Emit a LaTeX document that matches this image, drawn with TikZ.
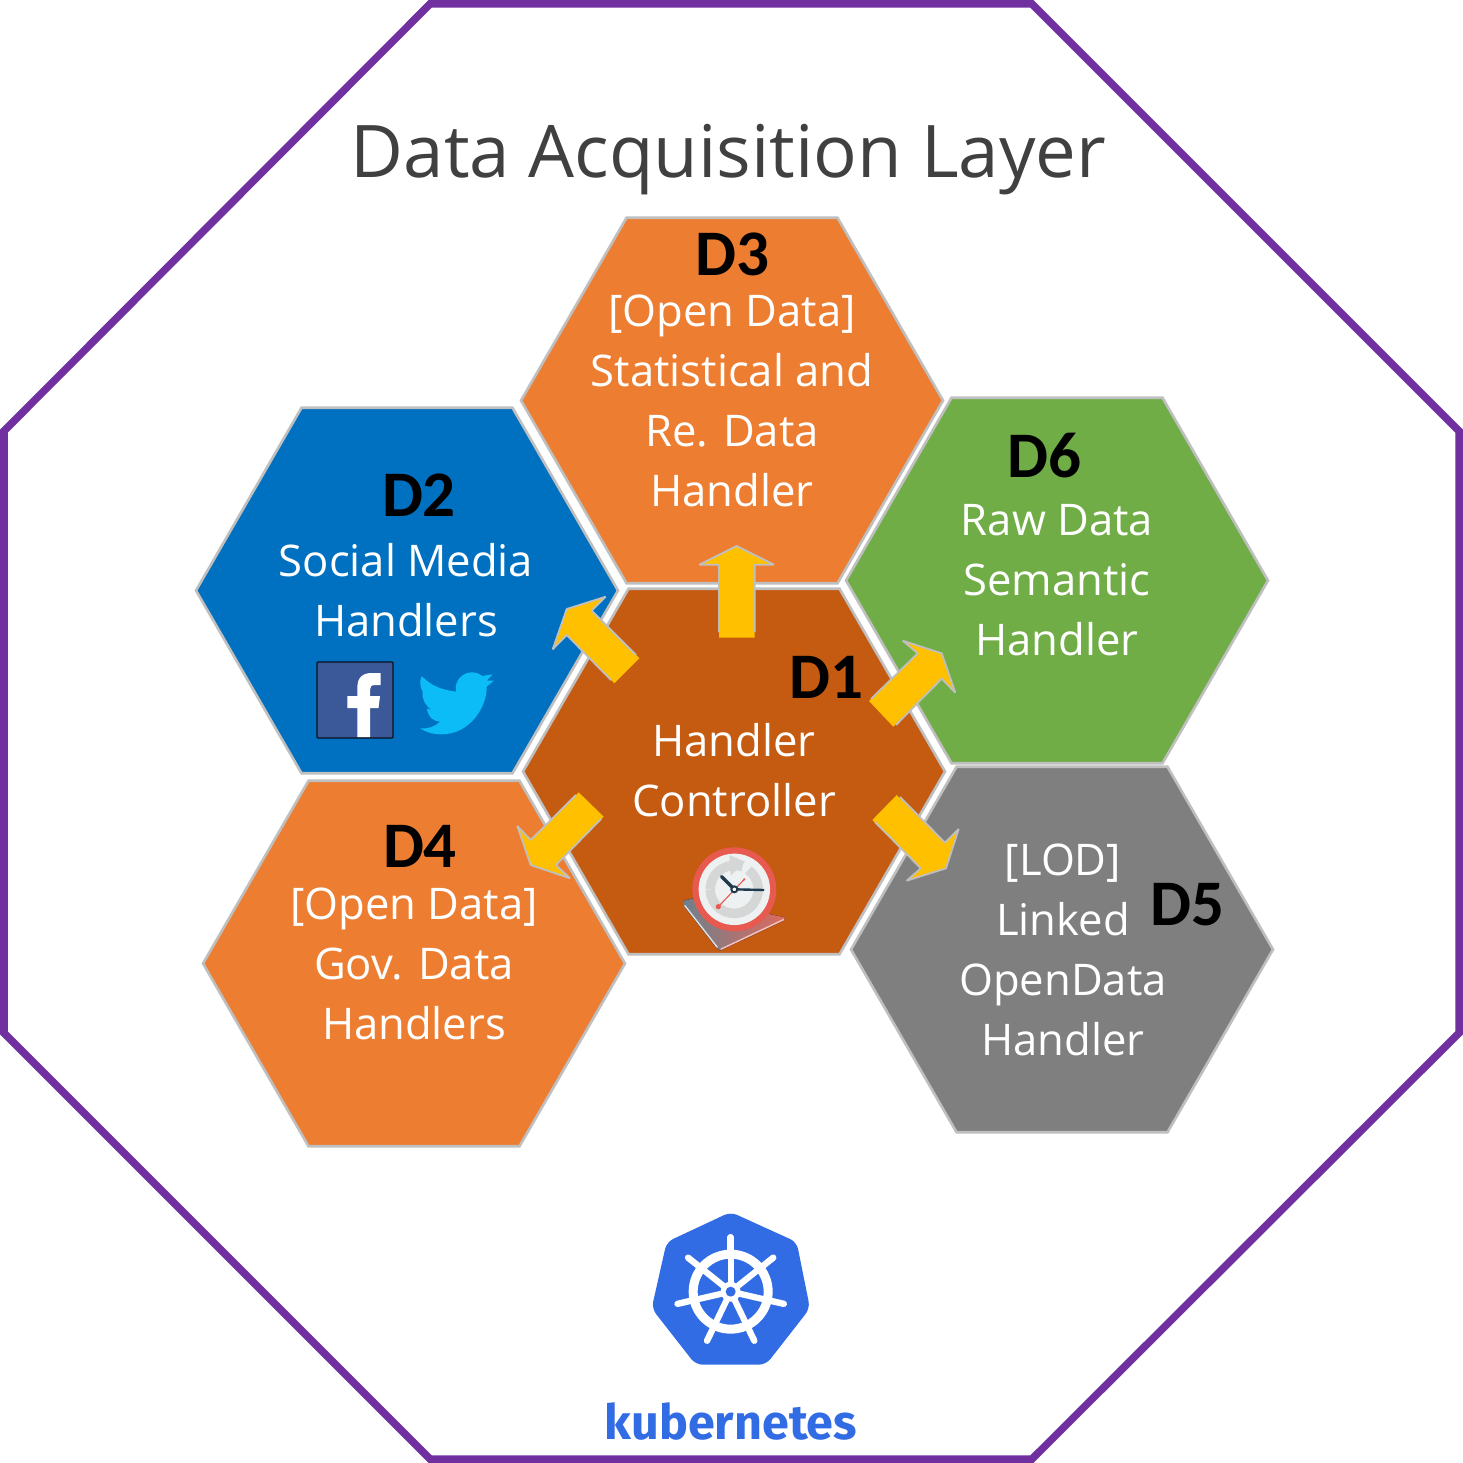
\documentclass[tikz,border=0pt]{standalone}
\usepackage{fontspec}
\usetikzlibrary{shapes.geometric}
\setmainfont{Open Sans}
\newfontfamily\carlitofont{Carlito}
\newfontfamily\kubefont{Fira Sans}
\definecolor{octa}{HTML}{7030A0}
\definecolor{hexorange}{HTML}{ED7D31}
\definecolor{hexblue}{HTML}{0070C0}
\definecolor{hexgreen}{HTML}{70AD47}
\definecolor{hexbrown}{HTML}{C55A11}
\definecolor{hexgray}{HTML}{7F7F7F}
\definecolor{hexline}{HTML}{BFBFBF}
\definecolor{arrowfill}{HTML}{FFC000}
\definecolor{kube}{HTML}{326CE5}
\definecolor{titlecol}{HTML}{404040}
\definecolor{fbblue}{HTML}{3B5998}
\definecolor{twblue}{HTML}{0CBCF6}
\definecolor{clockred}{HTML}{E8594F}
\definecolor{clockface}{HTML}{EEF1F2}
\definecolor{clockgray}{HTML}{D5D7D7}
\definecolor{clockhand}{HTML}{1F3A4D}
\definecolor{bookgray}{HTML}{6F808C}
\definecolor{bookred}{HTML}{DE6A5C}
\tikzset{
  x=1pt,y=-1pt,
  hexa/.style={regular polygon,regular polygon sides=6,minimum size=422pt,inner sep=0pt,outer sep=0pt,draw=hexline,line width=2.6pt,fill=#1},
  hextext/.style={text=white,align=center,inner sep=0pt,font=\fontsize{43.6}{60}\selectfont},
  dlabel/.style={text=black,inner sep=0pt,font=\carlitofont\bfseries\fontsize{65}{65}\selectfont},
  arrowbody/.style={fill=arrowfill,draw=none},
  arrowedge/.style={draw=hexline,line width=1.8pt,line join=bevel},
}
\begin{document}
\begin{tikzpicture}
\useasboundingbox (0,0) rectangle (1463,1463);
\fill[white] (0,0) rectangle (1463,1463);
\draw[octa,line width=7.5pt,line join=miter] (430,4)--(1032,4)--(1459,431)--(1459,1033)--(1032,1459)--(430,1459)--(4,1033)--(4,431)--cycle;
\node[titlecol,inner sep=0pt,font=\fontsize{72.6}{76}\selectfont] (title) at (728.5,160) {Data Acquisition Layer};
% hexagons
\node[hexa=hexorange] (h3) at (732,400.5) {};
\node[hexa=hexblue] (h2) at (407,590.5) {};
\node[hexa=hexgreen] (h6) at (1057,580.5) {};
\node[hexa=hexbrown] (h1) at (734,771.5) {};
\node[hexa=hexorange] (h4) at (414,963.5) {};
\node[hexa=hexgray] (h5) at (1062,949.5) {};
% texts
\node[hextext] (t3) at (732,401) {[Open Data]\\Statistical and\\Re. Data\\Handler};
\node[hextext] (t2) at (406,590) {Social Media\\Handlers};
\node[hextext] (t6) at (1057,580) {Raw Data\\Semantic\\Handler};
\node[hextext] (t1) at (734,770) {Handler\\Controller};
\node[hextext] (t4) at (414,964) {[Open Data]\\Gov. Data\\Handlers};
\node[hextext] (t5) at (1063,950) {[LOD]\\Linked\\OpenData\\Handler};
\node[dlabel] (d3) at (732,254) {D3};
\node[dlabel] (d2) at (419,495) {D2};
\node[dlabel] (d6) at (1044,456) {D6};
\node[dlabel] (d1) at (826,677) {D1};
\node[dlabel] (d4) at (420,846) {D4};
\node[dlabel] (d5) at (1187,905) {D5};
% block arrows
\fill[arrowbody] (736.7,546)--(774,564.7)--(754.7,564.7)--(754.7,637.5)--(719,637.5)--(719,564.7)--(699.3,564.7)--cycle;
\draw[arrowedge] (754.7,632)--(754.7,564.7)--(774,564.7)--(736.7,546)--(699.3,564.7)--(719,564.7)--(719,632);
\fill[arrowbody] (605.7,596.7)--(566.7,609)--(552.7,649.3)--(566.7,635)--(614.3,683.3)--(639.3,658.3)--(591.7,610.7)--cycle;
\draw[arrowedge] (636,655)--(591.7,610.7)--(605.7,596.7)--(566.7,609)--(552.7,649.3)--(566.7,635)--(611,680);
\fill[arrowbody] (902.7,640.7)--(941.7,653.3)--(955.3,692.7)--(941.7,678.7)--(893.3,726.7)--(869,701)--(917.7,653.3)--cycle;
\draw[arrowedge] (871,699)--(917.7,653.3)--(902.7,640.7)--(941.7,653.3)--(955.3,692.7)--(941.7,678.7)--(896,725);
\fill[arrowbody] (896.7,795)--(872.3,820)--(920.7,868.3)--(906.7,880.7)--(946,868.3)--(958.7,829)--(945,842.7)--cycle;
\draw[arrowedge] (875,822)--(920.7,868.3)--(906.7,880.7)--(946,868.3)--(958.7,829)--(945,842.7)--(900,797);
\fill[arrowbody] (578.7,792.3)--(603.7,816.7)--(556,865)--(570,878.3)--(530.7,865)--(517.3,826)--(530.7,840)--cycle;
\draw[arrowedge] (576,795)--(530.7,840)--(517.3,826)--(530.7,865)--(570,878.3)--(556,865)--(601,819);
% facebook
\draw[fill=fbblue,draw=black!80!fbblue,line width=1.2pt,rounded corners=1pt] (317,662) rectangle (393,738);
\fill[white] (357.3,737)--(357.3,708)--(347.3,708)--(347.3,696)--(357.3,696)--(357.3,688) .. controls (357.3,677) and (363,673) .. (372,673)--(380.7,673)--(380.7,685)--(375,685) .. controls (371,685) and (370,687) .. (370,690)--(370,696)--(380,696)--(378.5,708)--(370,708)--(370,737)--cycle;
% twitter
\begin{scope}[shift={(300,640)},x=0.3333pt,y=-0.3333pt]
\fill[twblue] (365,108) .. controls (395,140) and (430,150) .. (468,155)
  .. controls (462,120) and (490,97) .. (515,97)
  .. controls (530,97) and (540,102) .. (547,108)
  -- (578,103) -- (560,122) -- (582,122) -- (560,140)
  .. controls (562,200) and (510,283) .. (425,283)
  .. controls (400,283) and (378,277) .. (360,265)
  .. controls (385,267) and (405,260) .. (420,245)
  .. controls (400,243) and (387,235) .. (380,205)
  -- (395,210)
  .. controls (375,195) and (365,178) .. (368,155)
  .. controls (360,140) and (358,125) .. (365,108) -- cycle;
\end{scope}
% clock
\begin{scope}[shift={(660,830)},x=0.3333pt,y=-0.3333pt]
\fill[left color=bookgray,right color=bookred] (72,212) -- (100,205) -- (375,262) -- (372,272) -- (180,362) -- (170,355) -- (72,228) -- cycle;
\draw[white!75!bookgray,line width=1.4pt] (74,226) -- (172,352);
\draw[white!60!bookred,line width=1.4pt] (182,358) -- (372,268);
\fill[clockred] (223,178) circle[radius=42pt];
\fill[clockface] (223,178) circle[radius=35.7pt];
\draw[clockgray,line width=9.5pt] (151,178) arc[start angle=180,end angle=70,radius=24pt];
\draw[clockgray,line width=9.5pt] (265,120) arc[start angle=54,end angle=-180,radius=24pt];
\fill[clockgray] (208,75) -- (255,95) -- (212,137) -- cycle;
\draw[clockred,line width=1.1pt] (175,230) -- (253,148);
\fill[clockred] (175,230) circle[radius=2.6pt];
\fill[clockred] (253,148) circle[radius=1.2pt];
\draw[clockhand,line width=3.4pt,line cap=round] (223,178) -- (185,140);
\draw[clockhand,line width=2.4pt,line cap=round] (223,178) -- (310,180);
\draw[clockhand,fill=white,line width=2pt] (223,178) circle[radius=3pt];
\end{scope}
% kubernetes logo
\begin{scope}[shift={(640,1200)},x=0.3333pt,y=-0.3333pt]
\fill[kube,rounded corners=7pt] (272,36)--(470,126)--(510,325)--(378,494)--(167,494)--(35,325)--(80,126)--cycle;
\coordinate (hub) at (272,275);
\draw[white,line width=9pt] (hub) circle[radius=37.5pt];
\foreach \a in {90,38.6,-12.9,-64.3,-115.7,-167.1,141.4}{
  \draw[white,line width=6.2pt] (hub) -- ++(\a:40pt);
  \draw[white,line width=6.4pt,line cap=round] (hub) ++(\a:37pt) -- ++(\a:17.5pt);
}
\fill[white] (hub) circle[radius=10pt];
\fill[kube] (hub) circle[radius=5pt];
\end{scope}
\node[kube,inner sep=0pt,font=\kubefont\bfseries\fontsize{48.5}{50}\selectfont] (kubetext) at (731,1421) {kubernetes};
\end{tikzpicture}
\end{document}
